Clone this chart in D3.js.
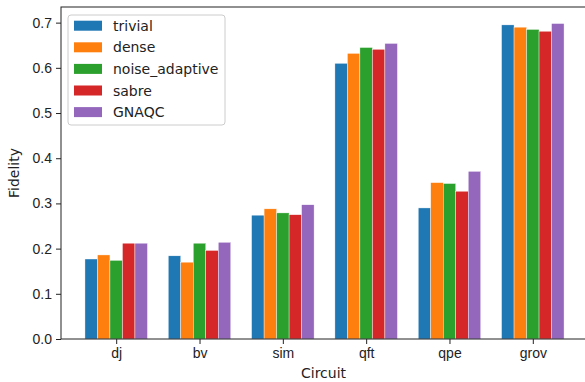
<!DOCTYPE html>
<html>
<head>
<meta charset="utf-8">
<script src="https://cdn.jsdelivr.net/npm/d3@7"></script>
<style>
  body { margin: 0; background: #fff; }
  svg { display: block; font-family: "DejaVu Sans", sans-serif; }
  .tick text { font-size: 14px; fill: #222; }
  .tick line { stroke: #222; }
  .domain { stroke: #222; }
</style>
</head>
<body>
<div class="container"></div>
<script>
var circuits = ['dj', 'bv', 'sim', 'qft', 'qpe', 'grov'];
var methods = ['trivial', 'dense', 'noise_adaptive', 'sabre', 'GNAQC'];
var colors = ['#1f77b4', '#ff7f0e', '#2ca02c', '#d62728', '#9467bd'];

var trivial = [0.177, 0.184, 0.274, 0.610, 0.290, 0.695];
var dense = [0.186, 0.170, 0.288, 0.632, 0.346, 0.690];
var noiseAdaptive = [0.174, 0.212, 0.279, 0.645, 0.344, 0.685];
var sabre = [0.212, 0.196, 0.275, 0.641, 0.327, 0.681];
var gnaqc = [0.212, 0.214, 0.297, 0.654, 0.371, 0.698];

var yTicks = [0, 0.1, 0.2, 0.3, 0.4, 0.5, 0.6, 0.7];

var series = [trivial, dense, noiseAdaptive, sabre, gnaqc];

var translate = (x, y) => `translate(${ x },${ y })`;

var width = 585, height = 382;
var plotLeft = 61, plotTop = 7, plotBottom = 339, plotRight = 588;
var barW = 0.15;

var svg = d3.select('.container').append('svg')
    .attr('width', width)
    .attr('height', height);

var x = d3.scaleLinear().domain([-0.6625, 5.6625]).range([plotLeft, plotRight]);
var y = d3.scaleLinear().domain([0, 0.7346]).range([plotBottom, plotTop]);

series.forEach((vals, j) => {
    svg.append('g').selectAll('rect')
        .data(vals)
        .enter().append('rect')
        .attr('x', (d, i) => x(i + (j - 2.5) * barW))
        .attr('width', x(barW) - x(0))
        .attr('y', d => y(d))
        .attr('height', d => y(0) - y(d))
        .attr('fill', colors[j])
        .attr('stroke', '#fff')
        .attr('stroke-width', 0.4);
});

// frame
svg.append('rect')
    .attr('x', plotLeft).attr('y', plotTop)
    .attr('width', plotRight - plotLeft).attr('height', plotBottom - plotTop)
    .attr('fill', 'none').attr('stroke', '#222').attr('stroke-width', 1);

var xAxis = d3.axisBottom(x)
    .tickValues(d3.range(circuits.length))
    .tickFormat(i => circuits[i])
    .tickSize(5).tickPadding(4);

svg.append('g')
    .attr('transform', translate(0, plotBottom))
    .call(xAxis)
    .call(g => g.select('.domain').remove());

var yAxis = d3.axisLeft(y)
    .tickValues(yTicks)
    .tickFormat(d3.format('.1f'))
    .tickSize(5).tickPadding(4);

svg.append('g')
    .attr('transform', translate(plotLeft, 0))
    .call(yAxis)
    .call(g => g.select('.domain').remove());

svg.append('text')
    .attr('x', (plotLeft + plotRight) / 2 - 1)
    .attr('y', 378)
    .attr('text-anchor', 'middle')
    .attr('font-size', 14)
    .attr('fill', '#222')
    .text('Circuit');

svg.append('text')
    .attr('transform', translate(19, (plotTop + plotBottom) / 2) + ' rotate(-90)')
    .attr('text-anchor', 'middle')
    .attr('font-size', 14)
    .attr('fill', '#222')
    .text('Fidelity');

// legend
var legend = svg.append('g').attr('transform', translate(68, 15));
legend.append('rect')
    .attr('width', 157).attr('height', 110)
    .attr('rx', 3)
    .attr('fill', '#fff').attr('fill-opacity', 0.8)
    .attr('stroke', '#ccc');

var items = legend.selectAll('g.item')
    .data(methods)
    .enter().append('g')
    .classed('item', true)
    .attr('transform', (d, i) => translate(0, 10.7 + i * 21.6));

items.append('rect')
    .attr('x', 6).attr('y', -5)
    .attr('width', 28).attr('height', 10)
    .attr('fill', (d, i) => colors[i]);

items.append('text')
    .attr('x', 45).attr('y', 5)
    .attr('font-size', 14)
    .attr('fill', '#222')
    .text(d => d);
</script>
</body>
</html>
